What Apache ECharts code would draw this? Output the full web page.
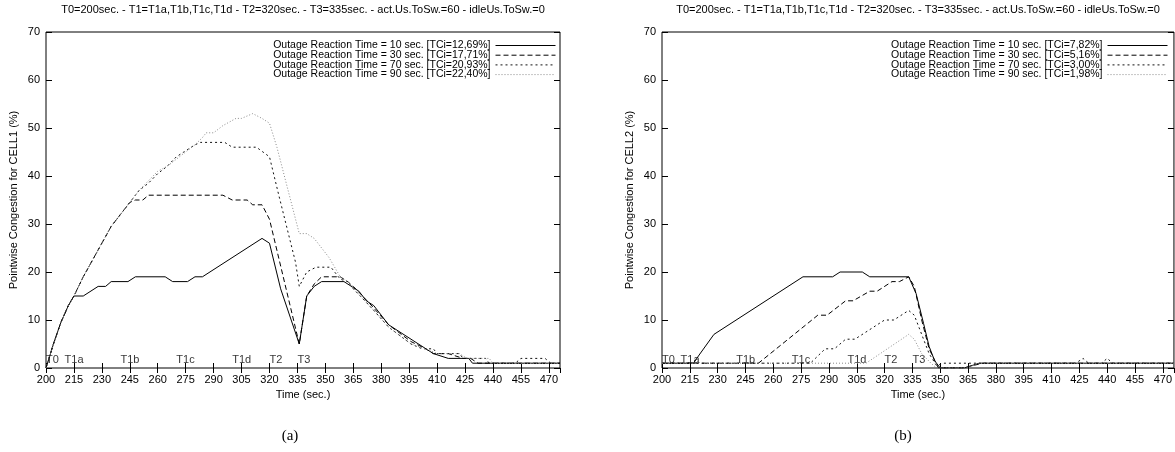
<!DOCTYPE html>
<html>
<head>
<meta charset="utf-8">
<script src="https://cdn.jsdelivr.net/npm/echarts@6/dist/echarts.min.js"></script>
<style>
html, body { margin: 0; padding: 0; background: #fff; }
#chart { width: 1175px; height: 452px; }
</style>
</head>
<body>
<div id="chart"></div>
<script>
// common text
var titleText = "T0=200sec. - T1=T1a,T1b,T1c,T1d - T2=320sec. - T3=335sec. - act.Us.ToSw.=60 - idleUs.ToSw.=0";
var markNames = ["T0", "T1a", "T1b", "T1c", "T1d", "T2", "T3"];
var markTimes = [200, 210, 240, 270, 300, 320, 335];
var markLevel = 1.7;

// panel (a) - CELL1
var namesA = [
    "Outage Reaction Time = 10 sec. [TCi=12,69%]",
    "Outage Reaction Time = 30 sec. [TCi=17,71%]",
    "Outage Reaction Time = 70 sec. [TCi=20,93%]",
    "Outage Reaction Time = 90 sec. [TCi=22,40%]"
];
var a10Time = [200, 204, 208, 212, 215, 220, 228, 232, 235, 244, 248, 264, 268, 276, 280, 284, 316, 320, 326, 336, 340, 344, 348, 360, 368, 372, 376, 384, 396, 408, 416, 427, 429, 476];
var a10Val  = [0, 5, 9.5, 13, 15, 15, 17, 17, 18, 18, 19, 19, 18, 18, 19, 19, 27, 26, 16.5, 5, 15, 17, 18, 18, 16, 14, 13, 9, 6, 3, 2, 2, 1, 1];
var a30Time = [200, 204, 208, 212, 215, 220, 225, 230, 235, 240, 245, 248, 252, 255, 295, 300, 308, 311, 316, 320, 336, 340, 344, 348, 358, 362, 365, 370, 376, 384, 396, 404, 408, 416, 424, 428, 432, 476];
var a30Val  = [0, 5, 9.5, 13, 15, 19, 22.5, 26, 29.5, 32, 34.5, 35, 35, 36, 36, 35, 35, 34, 34, 31, 5, 15, 17.5, 19, 19, 18, 17, 15, 12.5, 9, 5.5, 4, 3, 3, 2, 2, 1, 1];
var a70Time = [200, 204, 208, 212, 215, 220, 225, 230, 235, 240, 245, 250, 255, 260, 265, 270, 274, 280, 283, 296, 300, 313, 320, 325, 334, 336, 340, 345, 353, 358, 362, 365, 370, 376, 384, 396, 402, 408, 410, 422, 424, 436, 438, 452, 455, 468, 471, 476];
var a70Val  = [0, 5, 9.5, 13, 15, 19, 22.5, 26, 29.5, 32, 34.5, 37, 38.5, 40.5, 42, 44, 45, 46.5, 47, 47, 46, 46, 44, 36, 22, 17, 20, 21, 21, 18.5, 18, 16.5, 14.5, 12, 8.5, 5, 4, 4, 3, 3, 2, 2, 1, 1, 2, 2, 1, 1];
var a90Time = [200, 204, 208, 212, 215, 220, 225, 230, 235, 240, 245, 250, 255, 260, 265, 270, 275, 280, 284, 286, 290, 295, 302, 305, 311, 316, 320, 324, 336, 340, 344, 352, 358, 362, 365, 370, 376, 384, 396, 404, 410, 422, 426, 438, 440, 476];
var a90Val  = [0, 5, 9.5, 13, 15, 19, 22.5, 26, 29.5, 32, 34.5, 37, 39, 41, 42, 43.5, 45, 46.5, 48, 49, 49, 50.5, 52, 52, 53, 52, 51, 46, 28, 28, 27, 23, 19, 18, 16.5, 14.5, 12, 8.5, 5, 4, 3, 3, 2, 2, 1, 1];

// panel (b) - CELL2
var namesB = [
    "Outage Reaction Time = 10 sec. [TCi=7,82%]",
    "Outage Reaction Time = 30 sec. [TCi=5,16%]",
    "Outage Reaction Time = 70 sec. [TCi=3,00%]",
    "Outage Reaction Time = 90 sec. [TCi=1,98%]"
];
var b10Time = [200, 217, 220, 228, 276, 292, 296, 308, 312, 333, 337, 341, 344, 347, 350, 363, 371, 476];
var b10Val  = [1, 1, 2.7, 7, 19, 19, 20, 20, 19, 19, 15.5, 9.3, 4.5, 1.5, 0, 0, 1, 1];
var b30Time = [200, 252, 284, 289, 299, 303, 312, 316, 324, 328, 333, 336, 340, 344, 349, 362, 373, 476];
var b30Val  = [1, 1, 11, 11, 14, 14, 16, 16, 18, 18, 19, 17, 10, 4, 0, 0, 1, 1];
var b70Time = [200, 280, 288, 293, 299, 304, 312, 320, 325, 333, 336, 340, 344, 348, 352, 365, 423, 427, 430, 437, 440, 443, 476];
var b70Val  = [1, 1, 4, 4, 6, 6, 8, 10, 10, 12, 11, 7, 3, 0.5, 1, 1, 1, 2, 1, 1, 2, 1, 1];
var b90Time = [200, 310, 333, 336, 340, 345, 348, 363, 372, 476];
var b90Val  = [1, 1, 7, 6, 3, 1, 0, 0, 1, 1];

var FONT = "'Liberation Sans', Arial, sans-serif";
var lineStyles = [
    { color: "#000", width: 1, type: "solid" },
    { color: "#000", width: 1, type: [5, 3] },
    { color: "#111", width: 1, type: [2, 3] },
    { color: "#8a8a8a", width: 1, type: [1, 2] }
];

function zip(t, v) {
    return t.map(function (x, i) { return [x, v[i]]; });
}

function lineSeries(name, t, v, idx, axisIdx) {
    return {
        type: "line",
        name: name,
        xAxisIndex: axisIdx,
        yAxisIndex: axisIdx,
        data: zip(t, v),
        symbol: "none",
        lineStyle: lineStyles[idx],
        itemStyle: { color: lineStyles[idx].color },
        silent: true
    };
}

function markSeries(axisIdx) {
    return {
        type: "scatter",
        xAxisIndex: axisIdx,
        yAxisIndex: axisIdx,
        symbolSize: 0,
        silent: true,
        data: markTimes.map(function (t, i) {
            return { value: [t, markLevel], name: markNames[i] };
        }),
        label: {
            show: true,
            position: "right",
            distance: 0,
            formatter: "{b}",
            fontSize: 11,
            fontFamily: FONT,
            color: "#000"
        }
    };
}

function xAxes(grid) {
    var base = {
        gridIndex: grid,
        type: "value",
        min: 200,
        max: 476,
        interval: 15,
        axisLine: { show: false },
        splitLine: { show: false },
        axisTick: { inside: true, length: 5, lineStyle: { color: "#000" } }
    };
    var bottom = Object.assign({}, base, {
        position: "bottom",
        axisLabel: { fontSize: 11, fontFamily: FONT, color: "#000", margin: 6, showMaxLabel: false },
        name: "Time (sec.)",
        nameLocation: "middle",
        nameGap: 21,
        nameTextStyle: { fontSize: 11, fontFamily: FONT, color: "#000" }
    });
    var top = Object.assign({}, base, { position: "top", axisLabel: { show: false } });
    return [bottom, top];
}

function yAxes(grid, cell) {
    var base = {
        gridIndex: grid,
        type: "value",
        min: 0,
        max: 70,
        interval: 10,
        axisLine: { show: false },
        splitLine: { show: false },
        axisTick: { inside: true, length: 6, lineStyle: { color: "#000" } }
    };
    var left = Object.assign({}, base, {
        position: "left",
        axisLabel: { fontSize: 11, fontFamily: FONT, color: "#000", margin: 6 },
        name: "Pointwise Congestion for " + cell + " (%)",
        nameLocation: "middle",
        nameGap: 27,
        nameTextStyle: { fontSize: 11, fontFamily: FONT, color: "#000" }
    });
    var right = Object.assign({}, base, { position: "right", axisLabel: { show: false } });
    return [left, right];
}

function legendFor(names, right) {
    return {
        data: names,
        orient: "vertical",
        right: right,
        top: 40,
        align: "right",
        padding: 0,
        itemGap: -1.3,
        itemWidth: 60,
        itemHeight: 9,
        selectedMode: false,
        itemStyle: { color: "transparent", borderColor: "transparent", borderWidth: 0, opacity: 0 },
        lineStyle: { width: 1 },
        textStyle: { fontSize: 10.5, fontFamily: FONT, color: "#000", lineHeight: 9 }
    };
}

var chart = echarts.init(document.getElementById("chart"), null, { renderer: "canvas" });

var option = {
    backgroundColor: "#ffffff",
    animation: false,
    title: [
        { text: titleText, left: 303, top: 4, padding: 0, textAlign: "center",
          textStyle: { fontSize: 11, fontWeight: "normal", fontFamily: FONT, color: "#000" } },
        { text: titleText, left: 918, top: 4, padding: 0, textAlign: "center",
          textStyle: { fontSize: 11, fontWeight: "normal", fontFamily: FONT, color: "#000" } },
        { text: "(a)", left: 290, top: 429, padding: 0, textAlign: "center",
          textStyle: { fontSize: 15, fontWeight: "normal", fontFamily: "'Liberation Serif', serif", color: "#000" } },
        { text: "(b)", left: 903, top: 429, padding: 0, textAlign: "center",
          textStyle: { fontSize: 15, fontWeight: "normal", fontFamily: "'Liberation Serif', serif", color: "#000" } }
    ],
    legend: [legendFor(namesA, 619), legendFor(namesB, 7)],
    grid: [
        { left: 46, top: 32, width: 514, height: 336, show: true, borderColor: "#000", borderWidth: 1, backgroundColor: "transparent" },
        { left: 662, top: 32, width: 512, height: 336, show: true, borderColor: "#000", borderWidth: 1, backgroundColor: "transparent" }
    ],
    xAxis: xAxes(0).concat(xAxes(1)),
    yAxis: yAxes(0, "CELL1").concat(yAxes(1, "CELL2")),
    series: [
        lineSeries(namesA[0], a10Time, a10Val, 0, 0),
        lineSeries(namesA[1], a30Time, a30Val, 1, 0),
        lineSeries(namesA[2], a70Time, a70Val, 2, 0),
        lineSeries(namesA[3], a90Time, a90Val, 3, 0),
        markSeries(0),
        lineSeries(namesB[0], b10Time, b10Val, 0, 2),
        lineSeries(namesB[1], b30Time, b30Val, 1, 2),
        lineSeries(namesB[2], b70Time, b70Val, 2, 2),
        lineSeries(namesB[3], b90Time, b90Val, 3, 2),
        markSeries(2)
    ]
};

chart.setOption(option);
</script>
</body>
</html>
